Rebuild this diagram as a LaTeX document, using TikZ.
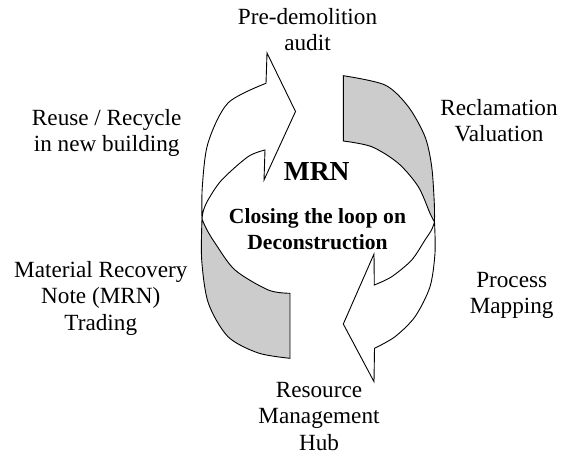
\documentclass[tikz,border=0pt]{standalone}
\usepackage{fontspec}
\setmainfont{Liberation Serif}
\begin{document}
\begin{tikzpicture}[x=1pt,y=-1pt,
  lbl/.style={align=center, inner sep=0pt, anchor=base, font={\fontsize{23.2}{26.7}\selectfont}},
  ttl/.style={inner sep=0pt, anchor=base, font={\fontsize{27.5}{30}\selectfont\bfseries}},
  subt/.style={align=center, inner sep=0pt, anchor=base, font={\fontsize{21.6}{26.6}\selectfont\bfseries}},
  backface/.style={draw=black, fill=gray!40, line width=0.9pt, line join=miter},
  frontface/.style={draw=black, fill=white, line width=0.9pt, line join=miter}]
\useasboundingbox (0,0) rectangle (561,456);

% left arrow: grey back face (tail at bottom)
\path[backface] plot[smooth] coordinates {(202,219) (201.7,260) (208.3,303) (228,336.7) (258.3,353) (290,358.3)}
  -- (290,293.3)
  -- plot[smooth] coordinates {(290,293.3) (268.3,290) (235,270) (215,243) (206.5,229) (202,219)} -- cycle;
% left arrow: white front face with head
\path[frontface] plot[smooth] coordinates {(202,219) (202.3,186.7) (208,143) (228,103) (266,83.3)}
  -- (267,53) -- (295.5,111.5) -- (264,180) -- (265,150)
  -- plot[smooth] coordinates {(265,150) (248,156.7) (221.7,180) (208,200) (203.3,211) (202,219)} -- cycle;

% right arrow: grey back face (tail at top)
\path[backface] plot[smooth] coordinates {(343.3,75.7) (385,85) (408.3,106.7) (425,136.7) (431.7,166.7) (434.3,203.3) (434.5,222)}
  -- plot[smooth] coordinates {(434.5,222) (430,213.3) (418.3,186.7) (398.3,163.3) (371.7,146.7) (343.3,141)} -- cycle;
% right arrow: white front face with head
\path[frontface] plot[smooth] coordinates {(434.5,222) (435,253) (430,286.7) (415,316.7) (395,336.7) (374.5,348.3)}
  -- (374,381.7) -- (343.3,324) -- (374,254) -- (374.3,285)
  -- plot[smooth] coordinates {(374.3,285) (391.7,276.7) (411.7,260) (425,240) (431.5,230) (434.5,222)} -- cycle;

% labels (anchor = baseline of the last line)
\node[lbl] (pre) at (307.5,50.7) {Pre-demolition\\audit};
\node[lbl] (reuse) at (106.7,151.7) {Reuse / Recycle\\in new building};
\node[lbl] (recl) at (499,141.7) {Reclamation\\Valuation};
\node[lbl] (mat) at (100.8,330.4) {Material Recovery\\Note (MRN)\\Trading};
\node[lbl] (proc) at (511.7,313.7) {Process\\Mapping};
\node[lbl] (hub) at (319,450.4) {Resource\\Management\\Hub};
\node[ttl] (mrn) at (316.7,180) {MRN};
\node[subt] (sub) at (317.5,249.6) {Closing the loop on\\Deconstruction};
\end{tikzpicture}
\end{document}
